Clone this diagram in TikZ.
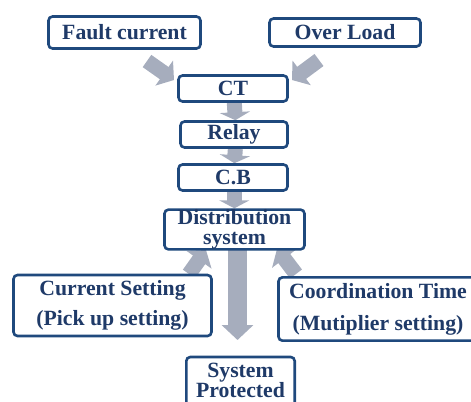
\documentclass[tikz,border=0pt]{standalone}
\usepackage{fontspec}
\setmainfont{Liberation Serif}
\usetikzlibrary{arrows.meta,backgrounds}

\definecolor{boxline}{RGB}{31,73,125}
\definecolor{boxtext}{RGB}{31,58,104}
\definecolor{arrowgray}{RGB}{166,173,189}

\tikzset{
  blockbox/.style={draw=boxline, line width=1.95pt, rounded corners=3pt, fill=white,
    text=boxtext, font=\fontsize{16.3}{15}\selectfont\bfseries, align=center, inner sep=0pt},
  fatarrow/.style={arrowgray, line width=11.25pt, -{Triangle[width=22.5pt,length=9pt]}},
  downarrow/.style={arrowgray, line width=11.25pt, -{Triangle[width=22.5pt,length=6pt]}},
  longarrow/.style={arrowgray, line width=14.25pt, -{Triangle[width=23.25pt,length=11.25pt]}}
}

\begin{document}
\begin{tikzpicture}[x=0.75pt,y=0.75pt,yscale=-1,xscale=1]
\useasboundingbox (0,0) rectangle (471,401);
\clip (0,0) rectangle (471,401);

% Inputs
\node [blockbox, minimum width=114pt, minimum height=24pt] (fault) at (124.5,32.5) {Fault current};
\node [blockbox, minimum width=113.25pt, minimum height=21pt] (overload) at (345,32.5) {Over Load};
% Chain
\node [blockbox, minimum width=81.75pt, minimum height=19.5pt] (ct) at (233,88.5) {CT};
\node [blockbox, minimum width=80.25pt, minimum height=19.5pt] (relay) at (234,134.5) {Relay};
\node [blockbox, minimum width=81.75pt, minimum height=19.5pt] (cb) at (233,177.5) {C.B};
\node [blockbox, minimum width=105pt, minimum height=29.25pt] (dist) at (234.5,229.5) {Distribution\\system};
% Settings
\node [blockbox, minimum width=148.5pt, minimum height=45.75pt, font=\fontsize{16.3}{23}\selectfont\bfseries] (curset) at (112.5,305.5) {Current Setting\\(Pick up setting)};
\node [blockbox, minimum width=149.25pt, minimum height=47.5pt, font=\fontsize{16.3}{24}\selectfont\bfseries] (coord) at (378,309) {Coordination Time\\(Mutiplier setting)};
% Output
\node [blockbox, minimum width=81.3pt, minimum height=39pt] (sysprot) at (240.5,383) {};
\node [text=boxtext, font=\fontsize{16.3}{15}\selectfont\bfseries, align=center, inner sep=0pt] (sysprottext) at (240.5,380.5) {System\\Protected};

\coordinate (faulttail) at (147,61);
\coordinate (faulttip) at (174,80);
\coordinate (loadtail) at (319,60);
\coordinate (loadtip) at (292,80);
\coordinate (curtail) at (189,274);
\coordinate (curtip) at (206,250);
\coordinate (coordtail) at (296,274);
\coordinate (coordtip) at (277,249);
\coordinate (distout) at (237.5,250);
\coordinate (prottip) at (237.5,340);

\begin{pgfonlayer}{background}
\draw [fatarrow] (faulttail) -- (faulttip);
\draw [fatarrow] (loadtail) -- (loadtip);
\draw [downarrow] ([xshift=1pt]ct.south) -- ([xshift=1pt]relay.north);
\draw [downarrow] ([xshift=1pt]relay.south) -- ([xshift=1pt]cb.north);
\draw [downarrow] ([xshift=1pt]cb.south) -- ([xshift=1pt]cb.south |- dist.north);
\draw [fatarrow] (curtail) -- (curtip);
\draw [fatarrow] (coordtail) -- (coordtip);
\draw [longarrow] (distout) -- (prottip);
\end{pgfonlayer}
\end{tikzpicture}
\end{document}
